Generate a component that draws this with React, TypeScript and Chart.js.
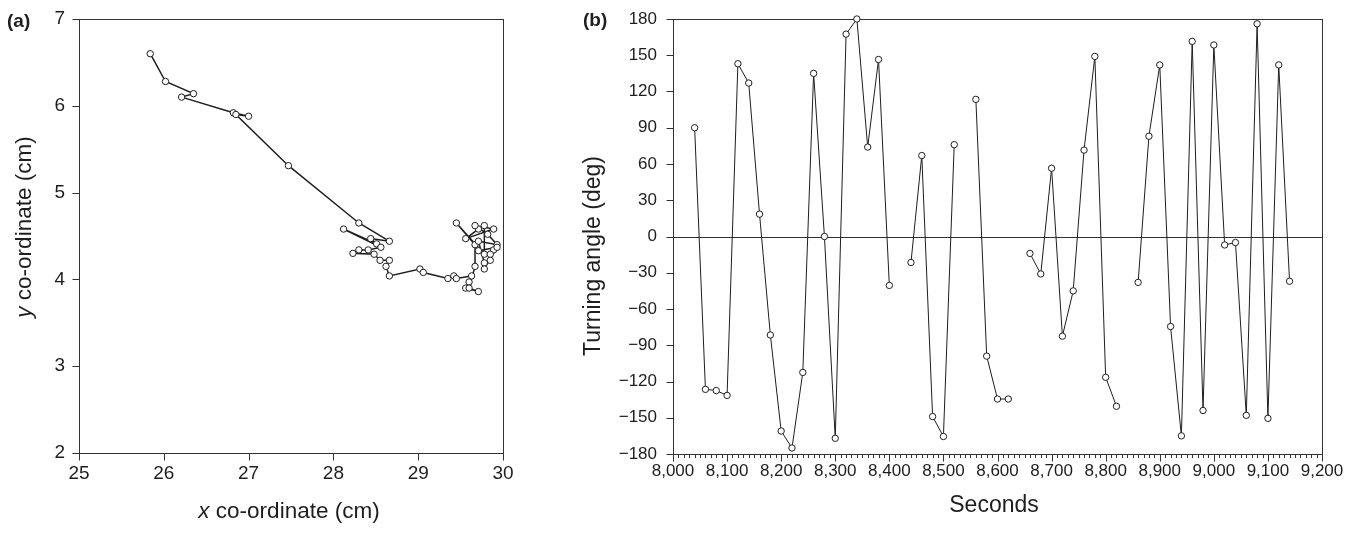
import React, { useEffect, useRef } from 'react';
import { Chart, registerables } from 'chart.js';

Chart.register(...registerables);

const FONT = '"Liberation Sans", Arial, Helvetica, sans-serif';
const INK = '#1e1e1e';

// Panel (a): trajectory
const pathX = [
  25.84, 26.02, 26.35, 26.21, 26.82, 27.0, 26.85, 27.47, 28.3, 28.66,
  28.44, 28.51, 28.12, 28.56, 28.41, 28.3, 28.23, 28.48, 28.55, 28.66,
  28.62, 28.66, 29.02, 29.06, 29.35, 29.42, 29.45, 29.63, 29.6, 29.56,
  29.71, 29.6, 29.67, 29.67, 29.45, 29.78, 29.78, 29.71, 29.56, 29.89,
  29.67, 29.82, 29.93, 29.71, 29.78, 29.85, 29.89, 29.78, 29.93, 29.71, 29.85,
];
const pathY = [
  6.6, 6.28, 6.14, 6.1, 5.92, 5.88, 5.9, 5.31, 4.65, 4.44,
  4.47, 4.41, 4.58, 4.37, 4.34, 4.34, 4.3, 4.29, 4.22, 4.22,
  4.15, 4.04, 4.12, 4.08, 4.01, 4.04, 4.01, 4.04, 3.97, 3.9,
  3.86, 3.9, 4.15, 4.4, 4.65, 4.29, 4.62, 4.58, 4.47, 4.58,
  4.62, 4.52, 4.4, 4.44, 4.19, 4.22, 4.34, 4.12, 4.37, 4.33, 4.29,
];
const xTicksA = [25, 26, 27, 28, 29, 30];
const yTicksA = [2, 3, 4, 5, 6, 7];

// Panel (b): turning angle over time
const seconds = [
  8040, 8060, 8080, 8100, 8120, 8140, 8160, 8180, 8200, 8220,
  8240, 8260, 8280, 8300, 8320, 8340, 8360, 8380, 8400, 8420,
  8440, 8460, 8480, 8500, 8520, 8540, 8560, 8580, 8600, 8620,
  8640, 8660, 8680, 8700, 8720, 8740, 8760, 8780, 8800, 8820,
  8840, 8860, 8880, 8900, 8920, 8940, 8960, 8980, 9000, 9020,
  9040, 9060, 9080, 9100, 9120, 9140,
];
const angles: (number | null)[] = [
  90, -126.5, -127.5, -131.5, 143, 127, 18.5, -81.5, -161, -175,
  -112.5, 135, 0, -167, 167.5, 180, 74, 146.5, -40.5, null,
  -21.5, 67, -149, -165.5, 76, null, 113.5, -99, -134.5, -134.5,
  null, -14, -31, 56.5, -82.5, -45, 71.5, 149, -116.5, -140.5,
  null, -38, 83, 142, -74.5, -165, 161.5, -144, 158.5, -7,
  -5, -148, 176, -150.5, 142, -37,
];
const xTicksB = [8000, 8100, 8200, 8300, 8400, 8500, 8600, 8700, 8800, 8900, 9000, 9100, 9200];
const xMinorB = 10;
const yTicksB = [-180, -150, -120, -90, -60, -30, 0, 30, 60, 90, 120, 150, 180];

type Part = { text: string; italic?: boolean; bold?: boolean };

function drawParts(ctx: CanvasRenderingContext2D, parts: Part[], cx: number, cy: number, size: number, rotate: boolean) {
  ctx.save();
  ctx.translate(cx, cy);
  if (rotate) ctx.rotate(-Math.PI / 2);
  const fontOf = (p: Part) => `${p.italic ? 'italic ' : ''}${p.bold ? 'bold ' : ''}${size}px ${FONT}`;
  let total = 0;
  const widths = parts.map((p) => {
    ctx.font = fontOf(p);
    const w = ctx.measureText(p.text).width;
    total += w;
    return w;
  });
  let x = -total / 2;
  ctx.fillStyle = INK;
  ctx.textBaseline = 'middle';
  ctx.textAlign = 'left';
  parts.forEach((p, i) => {
    ctx.font = fontOf(p);
    ctx.fillText(p.text, x, 0);
    x += widths[i];
  });
  ctx.restore();
}

function makeDecor(cfg: {
  xMajor: number[];
  xMinorStep?: number;
  yMajor: number[];
  zeroLine?: boolean;
  panel: string;
  panelX: number;
  panelY: number;
  yTitle: Part[];
  yTitlePos: [number, number];
  xTitle: Part[];
  xTitlePos: [number, number];
  titleSize: number;
}) {
  return {
    id: 'decor' + cfg.panel,
    beforeDatasetsDraw(chart: any) {
      const { ctx, chartArea: a, scales } = chart;
      const L = Math.round(a.left) + 0.5;
      const R = Math.round(a.right) + 0.5;
      const T = Math.round(a.top) + 0.5;
      const B = Math.round(a.bottom) + 0.5;
      ctx.save();
      ctx.strokeStyle = '#333';
      ctx.lineWidth = 1;
      ctx.strokeRect(L, T, R - L, B - T);
      if (cfg.zeroLine) {
        const y0 = Math.round(scales.y.getPixelForValue(0)) + 0.5;
        ctx.beginPath();
        ctx.moveTo(L, y0);
        ctx.lineTo(R, y0);
        ctx.stroke();
      }
      ctx.beginPath();
      cfg.xMajor.forEach((v) => {
        const x = Math.round(scales.x.getPixelForValue(v)) + 0.5;
        ctx.moveTo(x, B);
        ctx.lineTo(x, B + 7);
      });
      if (cfg.xMinorStep) {
        const lo = cfg.xMajor[0];
        const hi = cfg.xMajor[cfg.xMajor.length - 1];
        for (let v = lo; v <= hi; v += cfg.xMinorStep) {
          if (cfg.xMajor.includes(v)) continue;
          const x = Math.round(scales.x.getPixelForValue(v)) + 0.5;
          ctx.moveTo(x, B);
          ctx.lineTo(x, B + 3.5);
        }
      }
      cfg.yMajor.forEach((v) => {
        const y = Math.round(scales.y.getPixelForValue(v)) + 0.5;
        ctx.moveTo(L, y);
        ctx.lineTo(L - 7, y);
      });
      ctx.stroke();
      ctx.restore();
    },
    afterDraw(chart: any) {
      const { ctx } = chart;
      drawParts(ctx, cfg.yTitle, cfg.yTitlePos[0], cfg.yTitlePos[1], cfg.titleSize, true);
      drawParts(ctx, cfg.xTitle, cfg.xTitlePos[0], cfg.xTitlePos[1], cfg.titleSize, false);
      ctx.save();
      ctx.font = `bold 19px ${FONT}`;
      ctx.fillStyle = INK;
      ctx.textBaseline = 'middle';
      ctx.textAlign = 'left';
      ctx.fillText(cfg.panel, cfg.panelX, cfg.panelY);
      ctx.restore();
    },
  };
}

function axisBase(ticksArr: number[], size: number, padding: number, fmt: (v: number) => string) {
  return {
    type: 'linear' as const,
    min: ticksArr[0],
    max: ticksArr[ticksArr.length - 1],
    afterBuildTicks: (s: any) => {
      s.ticks = ticksArr.map((v) => ({ value: v }));
    },
    grid: { display: false, drawTicks: false },
    border: { display: false },
    ticks: {
      font: { family: FONT, size },
      color: INK,
      padding,
      maxRotation: 0,
      autoSkip: false,
      callback: (v: any) => fmt(Number(v)),
    },
  };
}

const fixX = (h: number) => (s: any) => {
  s.height = h;
  s.paddingLeft = 0;
  s.paddingRight = 0;
  s.paddingTop = 0;
  s.paddingBottom = 0;
};
const fixY = (w: number) => (s: any) => {
  s.width = w;
  s.paddingLeft = 0;
  s.paddingRight = 0;
  s.paddingTop = 0;
  s.paddingBottom = 0;
};

const minus = (s: string) => s.replace('-', '\u2212');

function PanelA() {
  const ref = useRef<HTMLCanvasElement>(null);
  useEffect(() => {
    const chart = new Chart(ref.current!, {
      type: 'scatter',
      data: {
        datasets: [
          {
            data: pathX.map((x, i) => ({ x, y: pathY[i] })),
            showLine: true,
            borderColor: INK,
            borderWidth: 1.5,
            pointRadius: 3.2,
            pointBackgroundColor: '#fff',
            pointBorderColor: INK,
            pointBorderWidth: 1,
            tension: 0,
            clip: false,
          } as any,
        ],
      },
      options: {
        animation: false,
        responsive: false,
        maintainAspectRatio: false,
        layout: { padding: { top: 19, right: 57, left: 0, bottom: 0 } },
        plugins: { legend: { display: false }, tooltip: { enabled: false } },
        scales: {
          x: { ...axisBase(xTicksA, 19, 9, (v) => String(v)), afterFit: fixX(95) },
          y: { ...axisBase(yTicksA, 19, 14, (v) => String(v)), afterFit: fixY(79) },
        } as any,
      },
      plugins: [
        makeDecor({
          xMajor: xTicksA,
          yMajor: yTicksA,
          panel: '(a)',
          panelX: 7,
          panelY: 22,
          yTitle: [{ text: 'y', italic: true }, { text: ' co-ordinate (cm)' }],
          yTitlePos: [25, 227],
          xTitle: [{ text: 'x', italic: true }, { text: ' co-ordinate (cm)' }],
          xTitlePos: [289, 512],
          titleSize: 22.5,
        }),
      ],
    });
    return () => chart.destroy();
  }, []);
  return <canvas ref={ref} width={560} height={548} style={{ position: 'absolute', left: 0, top: 0 }} />;
}

function PanelB() {
  const ref = useRef<HTMLCanvasElement>(null);
  useEffect(() => {
    const chart = new Chart(ref.current!, {
      type: 'line',
      data: {
        datasets: [
          {
            data: seconds.map((s, i) => ({ x: s, y: angles[i] })),
            spanGaps: false,
            borderColor: INK,
            borderWidth: 1,
            pointRadius: 3.2,
            pointBackgroundColor: '#fff',
            pointBorderColor: INK,
            pointBorderWidth: 1,
            tension: 0,
            clip: false,
          } as any,
        ],
      },
      options: {
        animation: false,
        responsive: false,
        maintainAspectRatio: false,
        layout: { padding: { top: 19, right: 32, left: 0, bottom: 0 } },
        plugins: { legend: { display: false }, tooltip: { enabled: false } },
        scales: {
          x: {
            ...axisBase(xTicksB, 17, 7, (v) => v.toLocaleString('en-US')),
            afterFit: fixX(94),
          },
          y: {
            ...axisBase(yTicksB, 17, 16, (v) => minus(String(v))),
            afterFit: fixY(113),
          },
        } as any,
      },
      plugins: [
        makeDecor({
          xMajor: xTicksB,
          xMinorStep: xMinorB,
          yMajor: yTicksB,
          zeroLine: true,
          panel: '(b)',
          panelX: 23,
          panelY: 21,
          yTitle: [{ text: 'Turning angle (deg)' }],
          yTitlePos: [34, 256],
          xTitle: [{ text: 'Seconds' }],
          xTitlePos: [434, 506],
          titleSize: 23,
        }),
      ],
    });
    return () => chart.destroy();
  }, []);
  return <canvas ref={ref} width={794} height={548} style={{ position: 'absolute', left: 560, top: 0 }} />;
}

export default function App() {
  return (
    <div style={{ position: 'absolute', left: 0, top: 0, width: 1354, height: 548, background: '#fff', overflow: 'hidden' }}>
      <PanelA />
      <PanelB />
    </div>
  );
}
